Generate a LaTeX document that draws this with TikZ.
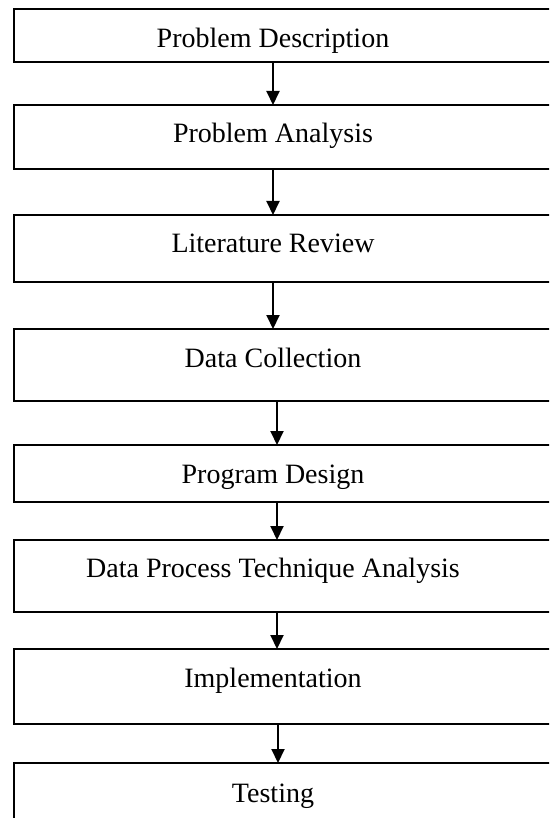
\documentclass[tikz,border=0pt]{standalone}
\usepackage{color}
\usepackage{fontspec}
\setmainfont{Liberation Serif}
\usepackage{tikz}
\usetikzlibrary{positioning,arrows.meta}

\newcommand{\stagetext}[1]{\makebox[560pt][l]{\makebox[518pt]{#1}}}

\begin{document}
\begin{tikzpicture}[x=1pt, y=-1pt,
    stage/.style={draw, rectangle, line width=1.6pt, inner sep=0pt, outer sep=0pt,
      text height=38pt, font=\fontsize{28}{33}\selectfont},
    flow/.style={line width=2pt, -{Triangle[length=14pt,width=13pt]}}]

      \useasboundingbox (0,0) rectangle (549,818);
      \clip (0,0) rectangle (549,818);

      \node[stage, anchor=north west, text height=39pt, text depth=14pt] (desc) at (14,9) {\stagetext{Problem Description}};
      \node[stage, below=43pt of desc, text depth=26pt] (anal) {\stagetext{Problem Analysis}};
      \node[stage, below=46pt of anal, text height=37pt, text depth=30pt] (lit) {\stagetext{Literature Review}};
      \node[stage, below=47pt of lit, text depth=34pt] (data) {\stagetext{Data Collection}};
      \node[stage, below=44pt of data, text depth=19pt] (prog) {\stagetext{Program Design}};
      \node[stage, below=38pt of prog, text height=37pt, text depth=35pt] (tech) {\stagetext{Data Process Technique Analysis}};
      \node[stage, below=37pt of tech, text depth=37pt] (impl) {\stagetext{Implementation}};
      \node[stage, below=39pt of impl, text height=39pt, text depth=38pt] (test) {\stagetext{Testing}};

      % arrows between the stages
      \foreach \a/\b/\x in {desc/anal/273, anal/lit/273, lit/data/273, data/prog/277,
                            prog/tech/277, tech/impl/277, impl/test/278}
        \draw[flow] (\a.south -| \x,0) -- (\b.north -| \x,0);

    \end{tikzpicture}
\end{document}
